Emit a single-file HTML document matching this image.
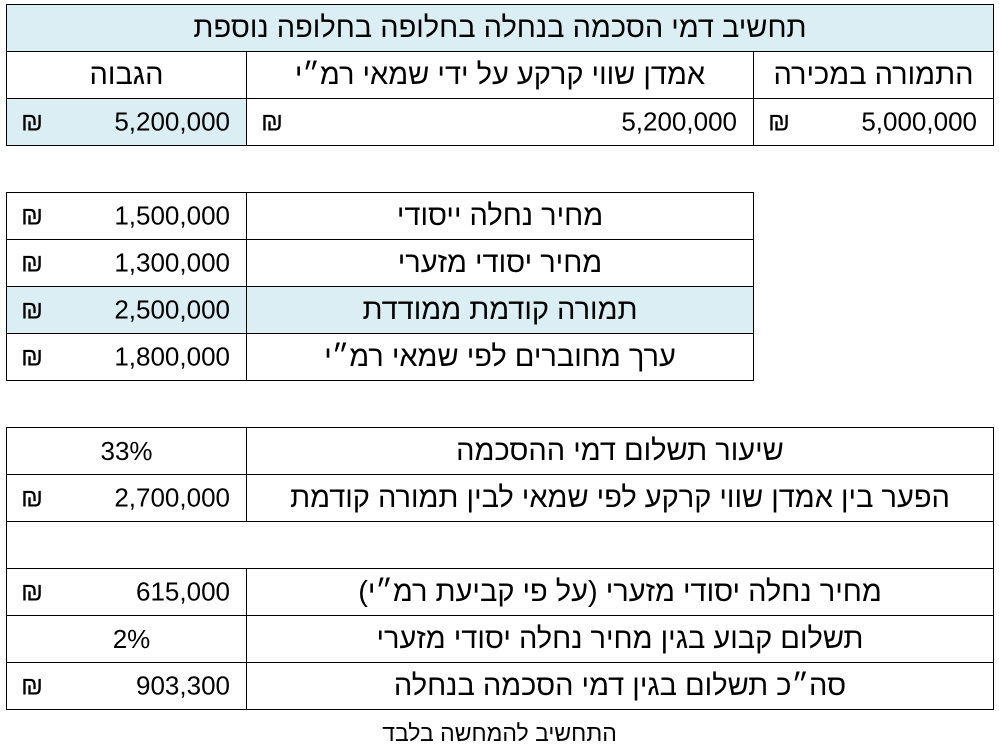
<!DOCTYPE html>
<html><head><meta charset="utf-8"><style>
body{margin:0;width:999px;height:749px;background:#fff;position:relative;overflow:hidden;font-family:"Liberation Sans","DejaVu Sans",sans-serif;font-size:29px;color:#000}
.c{position:absolute;box-sizing:border-box;border:1px solid #000;display:flex;align-items:center;justify-content:center;direction:rtl;white-space:nowrap}
.b{background:#DAEEF3}
.n{position:absolute;right:16px;top:50%;transform:translateY(-50%);direction:ltr;font-size:26px}
.s{position:absolute;left:14px;top:50%;transform:translateY(-50%);font-size:26px}
.p{font-size:26px}
.f{position:absolute;left:0;width:999px;top:720px;text-align:center;font-size:23px;direction:rtl}
</style></head><body>
<div class="c b" style="left:6px;top:4px;width:988px;height:48px">תחשיב דמי הסכמה בנחלה בחלופה בחלופה נוספת</div>
<div class="c" style="left:753px;top:51px;width:241px;height:48px">התמורה במכירה</div>
<div class="c" style="left:246px;top:51px;width:508px;height:48px">אמדן שווי קרקע על ידי שמאי רמ״י</div>
<div class="c" style="left:6px;top:51px;width:241px;height:48px">הגבוה</div>
<div class="c" style="left:753px;top:98px;width:241px;height:48px"><span class="n">5,000,000</span><span class="s">₪</span></div>
<div class="c" style="left:246px;top:98px;width:508px;height:48px"><span class="n">5,200,000</span><span class="s">₪</span></div>
<div class="c b" style="left:6px;top:98px;width:241px;height:48px"><span class="n">5,200,000</span><span class="s">₪</span></div>

<div class="c" style="left:246px;top:192px;width:508px;height:48px">מחיר נחלה ייסודי</div>
<div class="c" style="left:6px;top:192px;width:241px;height:48px"><span class="n">1,500,000</span><span class="s">₪</span></div>
<div class="c" style="left:246px;top:239px;width:508px;height:48px">מחיר יסודי מזערי</div>
<div class="c" style="left:6px;top:239px;width:241px;height:48px"><span class="n">1,300,000</span><span class="s">₪</span></div>
<div class="c b" style="left:246px;top:286px;width:508px;height:48px">תמורה קודמת ממודדת</div>
<div class="c b" style="left:6px;top:286px;width:241px;height:48px"><span class="n">2,500,000</span><span class="s">₪</span></div>
<div class="c" style="left:246px;top:333px;width:508px;height:48px">ערך מחוברים לפי שמאי רמ״י</div>
<div class="c" style="left:6px;top:333px;width:241px;height:48px"><span class="n">1,800,000</span><span class="s">₪</span></div>

<div class="c" style="left:246px;top:427px;width:748px;height:48px">שיעור תשלום דמי ההסכמה</div>
<div class="c p" style="left:6px;top:427px;width:241px;height:48px">33%</div>
<div class="c" style="left:246px;top:474px;width:748px;height:48px">הפער בין אמדן שווי קרקע לפי שמאי לבין תמורה קודמת</div>
<div class="c" style="left:6px;top:474px;width:241px;height:48px"><span class="n">2,700,000</span><span class="s">₪</span></div>
<div class="c" style="left:6px;top:521px;width:988px;height:48px"></div>
<div class="c" style="left:246px;top:568px;width:748px;height:48px">מחיר נחלה יסודי מזערי (על פי קביעת רמ״י)</div>
<div class="c" style="left:6px;top:568px;width:241px;height:48px"><span class="n">615,000</span><span class="s">₪</span></div>
<div class="c" style="left:246px;top:615px;width:748px;height:48px">תשלום קבוע בגין מחיר נחלה יסודי מזערי</div>
<div class="c p" style="left:6px;top:615px;width:241px;height:48px"><span style="margin-right:-10px">2%</span></div>
<div class="c" style="left:246px;top:662px;width:748px;height:48px">סה״כ תשלום בגין דמי הסכמה בנחלה</div>
<div class="c" style="left:6px;top:662px;width:241px;height:48px"><span class="n">903,300</span><span class="s">₪</span></div>
<div class="f">התחשיב להמחשה בלבד</div>
</body></html>
